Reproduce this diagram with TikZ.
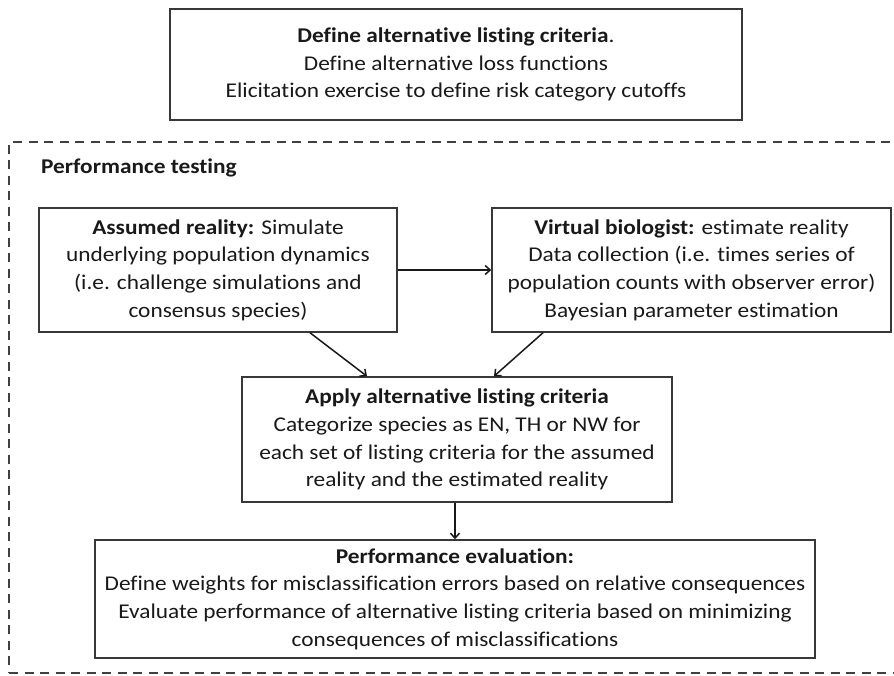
\documentclass[tikz,border=0pt]{standalone}
\usepackage{fontspec}
\setmainfont[Ligatures={NoCommon},FakeStretch=1.11]{Carlito}
\usetikzlibrary{arrows.meta,calc}
\begin{document}
\begin{tikzpicture}[x=1pt,y=1pt,
  txt/.style={font=\fontsize{21}{27.7}\selectfont, text=black!90, align=center, inner sep=0pt},
  box/.style={txt, draw=black!78, line width=1.5pt, fill=white},
  conn/.style={draw=black!90, line width=1.5pt, -{Straight Barb[length=5pt,width=9pt,line width=1.5pt]}}
]
\useasboundingbox (0,0) rectangle (894,-675);
\fill[white] (0,0) rectangle (894,-675);

% dashed frame
\node[draw=black!75, line width=1.3pt, dash pattern=on 9pt off 6.5pt, minimum width=888pt, minimum height=531pt, inner sep=0pt] (frame) at (453,-407.5) {};

\node[box, minimum width=572pt, minimum height=111pt] (crit) at (456,-64.5)
 {\textbf{Define alternative listing criteria}.\\Define alternative loss functions\\Elicitation exercise to define risk category cutoffs};

\node[txt, anchor=west] (pt) at (41,-168) {\textbf{Performance testing}};

\node[box, minimum width=358pt, minimum height=124pt] (ar) at (218,-270)
 {\textbf{Assumed reality:} Simulate\\underlying population dynamics\\(i.e. challenge simulations and\\consensus species)};

\node[box, minimum width=399pt, minimum height=124pt] (vb) at (691.5,-270)
 {\textbf{Virtual biologist:} estimate reality\\Data collection (i.e. times series of\\population counts with observer error)\\Bayesian parameter estimation};

\node[box, minimum width=430pt, minimum height=125pt] (ap) at (457,-439.5)
 {\textbf{Apply alternative listing criteria}\\Categorize species as EN, TH or NW for\\each set of listing criteria for the assumed\\reality and the estimated reality};

\node[box, minimum width=720pt, minimum height=118pt] (pe) at (455,-599)
 {\textbf{Performance evaluation:}\\Define weights for misclassification errors based on relative consequences\\Evaluate performance of alternative listing criteria based on minimizing\\consequences of misclassifications};

\draw[conn] (ar.east) -- (vb.west);
\draw[conn] ([xshift=92pt]ar.south) -- ([xshift=-90pt]ap.north);
\draw[conn] ([xshift=-148.5pt]vb.south) -- ([xshift=37pt]ap.north);
\draw[conn] ([xshift=-2pt]ap.south) -- ([xshift=-2pt]ap.south |- pe.north);
\end{tikzpicture}
\end{document}
